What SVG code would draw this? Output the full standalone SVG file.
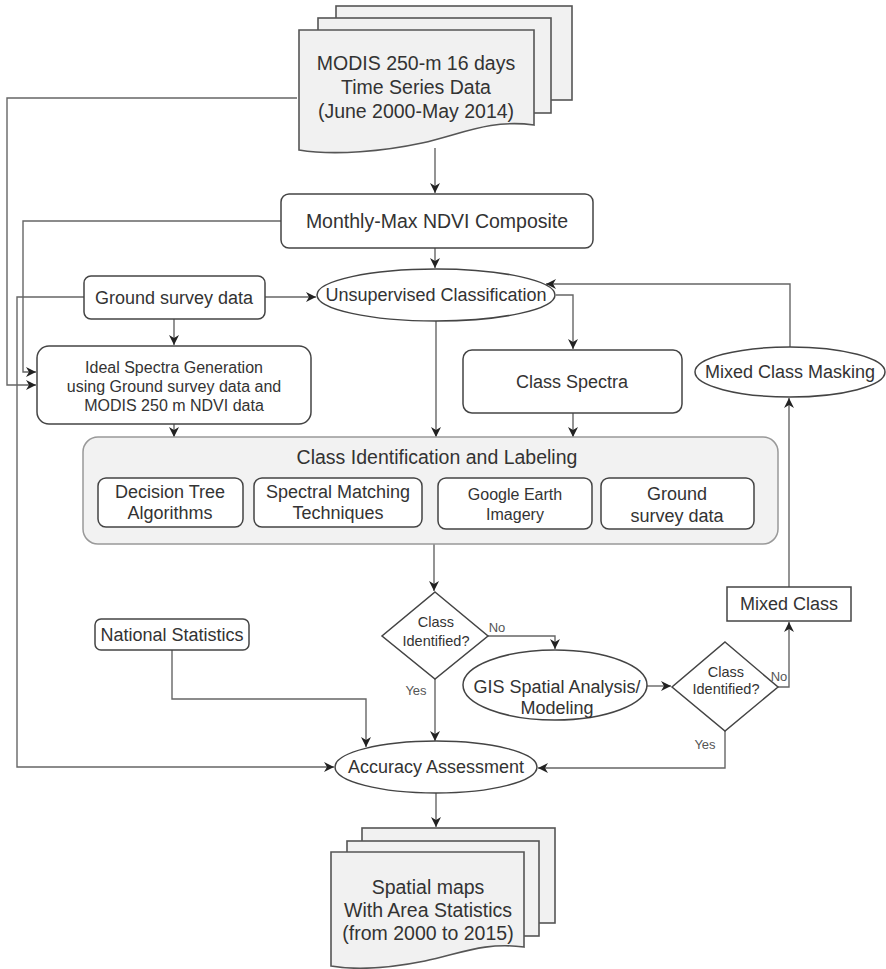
<svg xmlns="http://www.w3.org/2000/svg" width="886" height="969" viewBox="0 0 886 969">
<defs>
<marker id="arr" viewBox="0 0 10 10" refX="10" refY="5" markerWidth="10" markerHeight="10" markerUnits="userSpaceOnUse" orient="auto">
<path d="M0,0 L10,5 L0,10 L3,5 Z" fill="#222"/>
</marker>
<style>
.doc{fill:#f1f1f1;stroke:#555;stroke-width:1.6}
.box{fill:#fff;stroke:#444;stroke-width:1.5}
.grp{fill:#f2f2f2;stroke:#999;stroke-width:1.5}
.ln{fill:none;stroke:#666;stroke-width:1.4;marker-end:url(#arr)}
.ln0{fill:none;stroke:#666;stroke-width:1.4}
text{font-family:"Liberation Sans",Arial,sans-serif;fill:#333;text-anchor:middle}
.t19{font-size:19.5px}
.t18{font-size:18px}
.t16{font-size:16px}
.t14{font-size:14.5px}
.lbl{font-size:13px;fill:#555}
</style>
</defs>
<rect width="886" height="969" fill="#fff"/>

<g id="connectors">
<path class="ln" d="M435,148 V193"/>
<path class="ln" d="M297,98 H7 V385 H36"/>
<path class="ln" d="M281,221 H23 V372 H36"/>
<path class="ln" d="M435,248 V268"/>
<path class="ln" d="M84,297 H17 V767 H334"/>
<path class="ln" d="M265,297 H316"/>
<path class="ln" d="M174,319 V345"/>
<path class="ln" d="M556,295 H573 V349"/>
<path class="ln" d="M436,321 V437"/>
<path class="ln" d="M174,424 V437"/>
<path class="ln" d="M573,413 V437"/>
<path class="ln" d="M790,347 V284 H546"/>
<path class="ln" d="M434,544 V591"/>
<path class="ln" d="M488,636 H555 V649"/>
<path class="ln" d="M435,679 V741"/>
<path class="ln" d="M647,686 H671"/>
<path class="ln" d="M778,687 H789 V622"/>
<path class="ln" d="M789,587 V398"/>
<path class="ln" d="M725,731 V768 H538"/>
<path class="ln" d="M172,650 V699 H366 V747"/>
<path class="ln" d="M436,793 V827"/>
<text class="lbl" x="497" y="632">No</text>
<text class="lbl" x="416" y="695">Yes</text>
<text class="lbl" x="779" y="681">No</text>
<text class="lbl" x="705" y="749">Yes</text>
</g>

<g id="modis">
<rect class="doc" x="336" y="6" width="236" height="94"/>
<rect class="doc" x="318" y="18" width="233" height="95"/>
<path class="doc" d="M299,30 H534 V125 C490,119 462,134 422,143 C385,151 335,156 299,150 Z"/>
<text class="t19" x="416" y="70">MODIS 250-m 16 days</text>
<text class="t19" x="416" y="94">Time Series Data</text>
<text class="t19" x="416" y="118">(June 2000-May 2014)</text>
</g>

<g id="monthly">
<rect class="box" x="281" y="194" width="312" height="54" rx="8"/>
<text class="t19" x="437" y="228">Monthly-Max NDVI Composite</text>
</g>

<g id="ground">
<rect class="box" x="84" y="276" width="181" height="43" rx="7"/>
<text class="t18" x="174" y="304">Ground survey data</text>
</g>

<g id="unsup">
<ellipse class="box" cx="436" cy="295" rx="119" ry="26"/>
<text class="t18" x="436" y="301">Unsupervised Classification</text>
</g>

<g id="ideal">
<rect class="box" x="37" y="346" width="274" height="78" rx="12"/>
<text class="t16" x="174" y="373">Ideal Spectra Generation</text>
<text class="t16" x="174" y="392">using Ground survey data and</text>
<text class="t16" x="174" y="411">MODIS 250 m NDVI data</text>
</g>

<g id="classspectra">
<rect class="box" x="463" y="350" width="219" height="63" rx="9"/>
<text class="t18" x="572" y="388">Class Spectra</text>
</g>

<g id="masking">
<ellipse class="box" cx="790" cy="372" rx="95" ry="25"/>
<text class="t18" x="790" y="378">Mixed Class Masking</text>
</g>

<g id="classid">
<rect class="grp" x="83" y="437" width="695" height="107" rx="15"/>
<text class="t19" x="437" y="464">Class Identification and Labeling</text>
</g>
<g id="decision">
<rect class="box" x="98" y="478" width="145" height="49" rx="8"/>
<text class="t18" x="170" y="498">Decision Tree</text>
<text class="t18" x="170" y="519">Algorithms</text>
</g>
<g id="spectral">
<rect class="box" x="254" y="478" width="168" height="49" rx="8"/>
<text class="t18" x="338" y="498">Spectral Matching</text>
<text class="t18" x="338" y="519">Techniques</text>
</g>
<g id="google">
<rect class="box" x="438" y="478" width="154" height="51" rx="8"/>
<text class="t16" x="515" y="500">Google Earth</text>
<text class="t16" x="515" y="520">Imagery</text>
</g>
<g id="groundsub">
<rect class="box" x="601" y="478" width="153" height="51" rx="8"/>
<text class="t18" x="677" y="500">Ground</text>
<text class="t18" x="677" y="522">survey data</text>
</g>

<g id="diamond1">
<path class="box" d="M435,592 L488,636 L435,679 L382,636 Z"/>
<text class="t14" x="436" y="627">Class</text>
<text class="t14" x="436" y="646">Identified?</text>
</g>

<g id="gis">
<ellipse class="box" cx="555" cy="685" rx="92" ry="35"/>
<text class="t18" x="557" y="693">GIS Spatial Analysis/</text>
<text class="t18" x="557" y="714">Modeling</text>
</g>

<g id="diamond2">
<path class="box" d="M725,642 L778,687 L725,731 L672,687 Z"/>
<text class="t14" x="726" y="677">Class</text>
<text class="t14" x="726" y="694">Identified?</text>
</g>

<g id="mixed">
<rect class="box" x="727" y="587" width="124" height="34"/>
<text class="t18" x="789" y="610">Mixed Class</text>
</g>

<g id="national">
<rect class="box" x="95" y="619" width="154" height="31" rx="6"/>
<text class="t18" x="172" y="641">National Statistics</text>
</g>

<g id="accuracy">
<ellipse class="box" cx="436" cy="767" rx="101" ry="26"/>
<text class="t18" x="436" y="773">Accuracy Assessment</text>
</g>

<g id="maps">
<rect class="doc" x="362" y="828" width="193" height="95"/>
<rect class="doc" x="347" y="841" width="192" height="95"/>
<path class="doc" d="M331,852 H524 V947 C485,942 462,953 425,961 C390,968 360,971 331,966 Z"/>
<text class="t19" x="428" y="894">Spatial maps</text>
<text class="t19" x="428" y="917">With Area Statistics</text>
<text class="t19" x="428" y="940">(from 2000 to 2015)</text>
</g>
</svg>
